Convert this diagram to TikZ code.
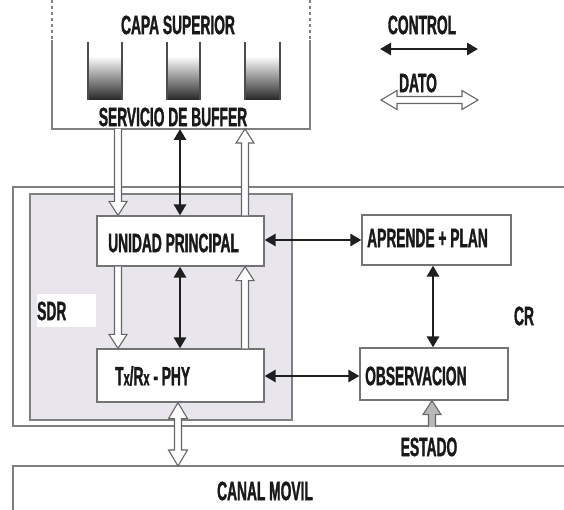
\documentclass[tikz,border=0pt]{standalone}
\usepackage{fontspec}
\setmainfont{Liberation Sans}[FakeStretch=0.52,FakeBold=1.2]
\usetikzlibrary{arrows.meta,calc}
\definecolor{sdrfill}{RGB}{233,229,236}
\newcommand\lbfont{\fontsize{26.5pt}{26.5pt}\selectfont\bfseries}
\newcommand\onedata[3][]{%
  \coordinate (hh) at ($(#3)!14pt!(#2)$);
  \draw[data,#1] ($(#2)!3.5pt!90:(#3)$) -- ($(hh)!3.5pt!90:(#3)$) -- ($(hh)!9pt!90:(#3)$) -- (#3)
     -- ($(hh)!9pt!-90:(#3)$) -- ($(hh)!3.5pt!-90:(#3)$) -- ($(#2)!3.5pt!-90:(#3)$);
}
\newcommand\twodata[3][]{%
  \coordinate (ha) at ($(#2)!16pt!(#3)$);
  \coordinate (hb) at ($(#3)!16pt!(#2)$);
  \draw[data,#1] (#2) -- ($(ha)!9.5pt!90:(#3)$) -- ($(ha)!3.5pt!90:(#3)$) -- ($(hb)!3.5pt!90:(#3)$)
     -- ($(hb)!9.5pt!90:(#3)$) -- (#3) -- ($(hb)!9.5pt!-90:(#3)$) -- ($(hb)!3.5pt!-90:(#3)$)
     -- ($(ha)!3.5pt!-90:(#3)$) -- ($(ha)!9.5pt!-90:(#3)$) -- cycle;
}
\tikzset{
  lbl/.style={font=\lbfont, text=black!90, inner sep=0pt},
  box/.style={draw=black!55, line width=1.2pt, fill=white, inner sep=0pt},
  frame/.style={draw=black!50, line width=1.4pt},
  data/.style={draw=black!60, line width=1.1pt, fill=white, line join=miter},
  ctrl/.style={draw=black!88, line width=2.8pt, {Triangle[length=11pt,width=12pt]}-{Triangle[length=11pt,width=12pt]}},
  buf/.style={draw=black!70, line width=1.3pt}
}
\begin{document}
\begin{tikzpicture}[x=1pt,y=-1pt]
\useasboundingbox (0,0) rectangle (564,510);
% top layer
\draw[frame, dashed] (52,0) -- (52,40);
\draw[frame, dashed] (310,0) -- (310,40);
\draw[frame] (52,40) -- (52,129) -- (310,129) -- (310,40);
\node[lbl] (capa) at (178,25) {CAPA SUPERIOR};
\node[lbl] (serv) at (173,117) {SERVICIO DE BUFFER};
\foreach \xa/\xb in {88/122,167/200,245/280}{
  \shade[top color=white, bottom color=black!85] (\xa,56) rectangle (\xb,100);
  \draw[buf] (\xa,42) -- (\xa,100);
  \draw[buf] (\xb,42) -- (\xb,100);
}
% legend
\node[lbl] (lcon) at (422,25) {CONTROL};
\coordinate (lc1) at (380,49);
\coordinate (lc2) at (478,49);
\draw[ctrl] (lc1) -- (lc2);
\node[lbl] (ldat) at (418,83) {DATO};
\coordinate (ld1) at (381,100);
\coordinate (ld2) at (478,100);
\twodata{ld1}{ld2}
% CR frame
\draw[frame] (564,187) -- (13,187) -- (13,426) -- (564,426);
% SDR
\node[draw=black!50, line width=1.3pt, fill=sdrfill, minimum width=262pt, minimum height=226pt, inner sep=0pt] (sdr) at (161,307) {};
\node[fill=white, minimum width=59pt, minimum height=33pt, inner sep=0pt] (sdrbg) at (66.5,310.5) {};
\node[lbl, anchor=west] (sdrt) at (37,311) {SDR};
\node[lbl] (cr) at (524,316) {CR};
% boxes
\node[box, minimum width=167pt, minimum height=50pt] (unid) at (180.5,241) {};
\node[lbl, anchor=west] (unidt) at (108,243) {UNIDAD PRINCIPAL};
\node[box, minimum width=167pt, minimum height=53pt] (tx) at (180.5,375.5) {};
\node[lbl, anchor=west] (txt) at (115,376) {T{\fontsize{21pt}{21pt}\selectfont x}/R{\fontsize{21pt}{21pt}\selectfont x} - PHY};
\node[box, minimum width=149pt, minimum height=50pt] (apr) at (436.5,240) {};
\node[lbl, anchor=west] (aprt) at (367,238) {APRENDE + PLAN};
\node[box, minimum width=148pt, minimum height=52pt] (obs) at (434,374) {};
\node[lbl, anchor=west] (obst) at (365,376) {OBSERVACION};
% canal
\draw[frame] (564,466) -- (13,466) -- (13,510);
\node[lbl] (canal) at (265,491) {CANAL MOVIL};
\node[lbl] (estado) at (429,447) {ESTADO};
% coordinates on the top layer
\coordinate (t1) at (118,129);
\coordinate (t2) at (180,129);
\coordinate (t3) at (245,129);
% data arrows
\onedata{t1}{unid.north -| t1}
\onedata{unid.north -| t3}{t3}
\onedata{unid.south -| t1}{tx.north -| t1}
\onedata{tx.north -| t3}{unid.south -| t3}
\coordinate (cm) at (178,466);
\twodata{tx.south -| cm}{cm}
\coordinate (es) at (432,427);
\onedata[fill=black!28]{es}{obs.south -| es}
% control arrows
\draw[ctrl] (t2) -- (unid.north -| t2);
\draw[ctrl] (unid.south -| t2) -- (tx.north -| t2);
\draw[ctrl] (unid.east |- 0,240) -- (apr.west |- 0,240);
\draw[ctrl] (tx.east |- 0,376) -- (obs.west |- 0,376);
\coordinate (av) at (433,0);
\draw[ctrl] (apr.south -| av) -- (obs.north -| av);
\end{tikzpicture}
\end{document}
